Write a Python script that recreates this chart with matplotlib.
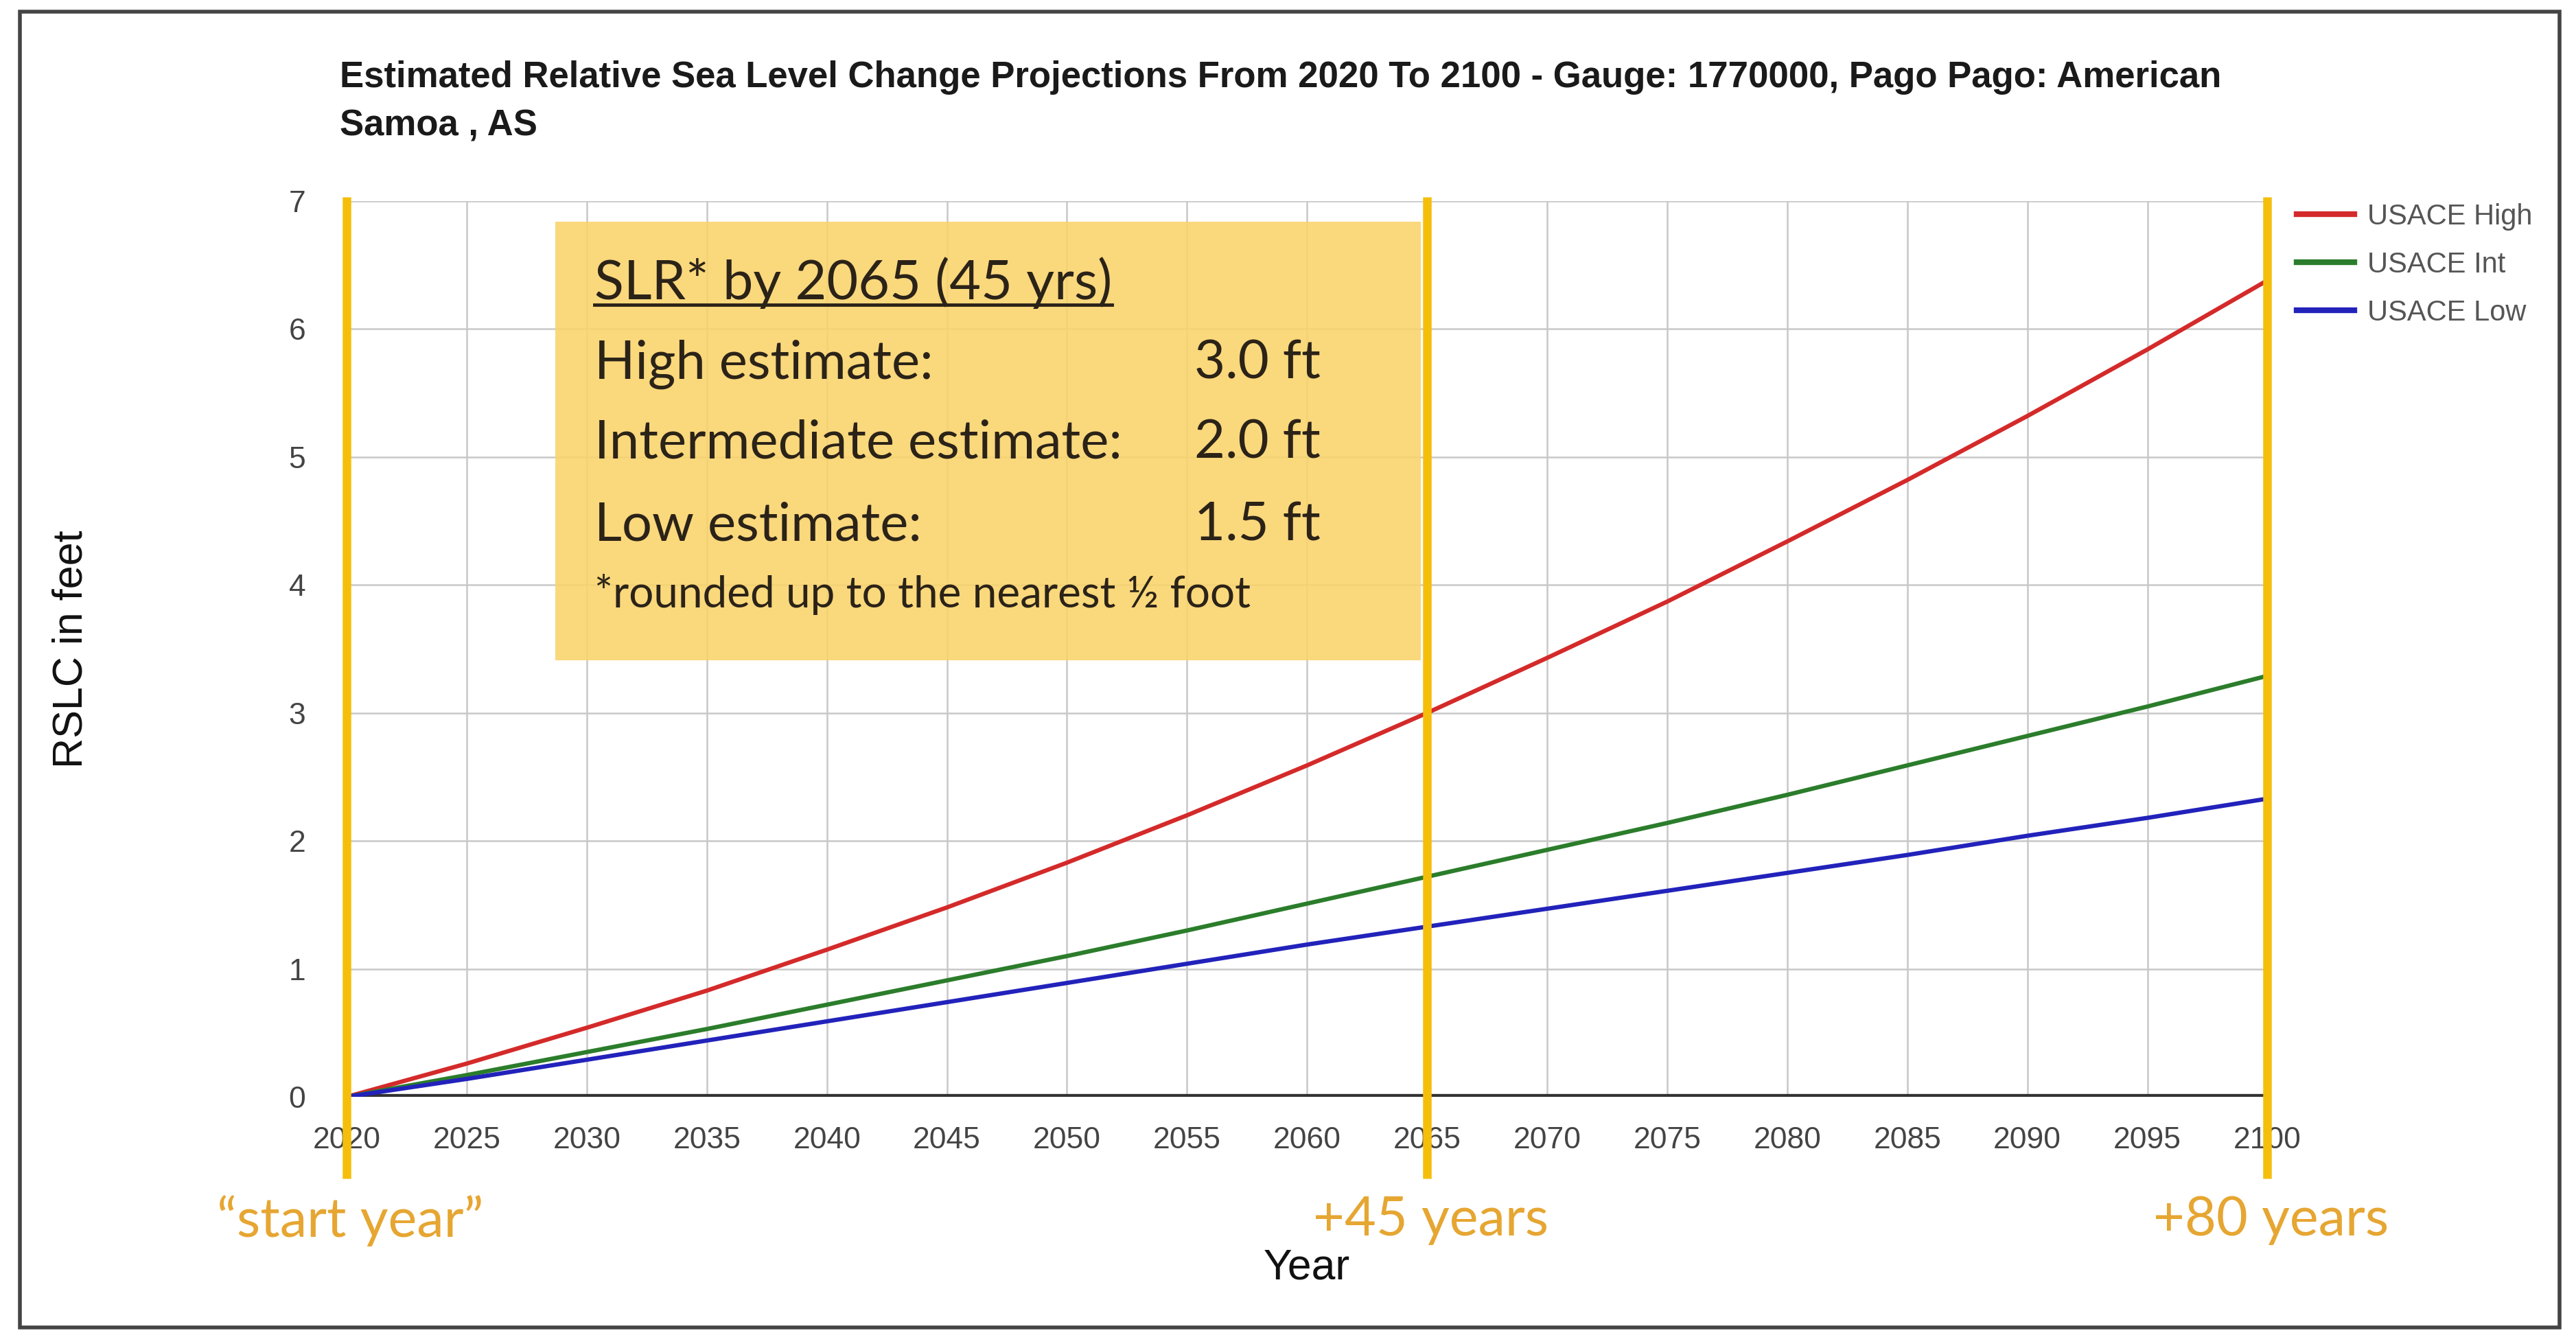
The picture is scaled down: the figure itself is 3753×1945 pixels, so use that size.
import math
import matplotlib
matplotlib.use('Agg')
import matplotlib.pyplot as plt
from matplotlib.patches import Rectangle
from matplotlib.lines import Line2D
from matplotlib.transforms import blended_transform_factory, IdentityTransform

# Relative sea level change (feet) relative to 2020, Pago Pago gauge 1770000
years = [2020, 2025, 2030, 2035, 2040, 2045, 2050, 2055, 2060,
         2065, 2070, 2075, 2080, 2085, 2090, 2095, 2100]
usace_high = [0.0, 0.26, 0.54, 0.83, 1.15, 1.48, 1.83, 2.20, 2.59,
              3.0, 3.43, 3.87, 4.34, 4.82, 5.32, 5.84, 6.38]
usace_int = [0.0, 0.17, 0.35, 0.53, 0.72, 0.91, 1.10, 1.30, 1.51,
             1.72, 1.93, 2.14, 2.36, 2.59, 2.82, 3.05, 3.29]
usace_low = [0.0, 0.14, 0.29, 0.44, 0.59, 0.74, 0.89, 1.04, 1.19,
             1.33, 1.47, 1.61, 1.75, 1.89, 2.04, 2.18, 2.33]

series_names = ['USACE High', 'USACE Int', 'USACE Low']
series_colors = ['#D42A2A', '#2B7D2B', '#2222BB']

milestones = [2020, 2065, 2100]
milestone_labels = ['\u201cstart year\u201d', '+45 years', '+80 years']
target_year = 2065

y_ticks = [0, 1, 2, 3, 4, 5, 6, 7]

title = ('Estimated Relative Sea Level Change Projections From 2020 To 2100 - '
         'Gauge: 1770000, Pago Pago: American\nSamoa , AS')

SANS = 'Liberation Sans'
HAND = 'Lato'

fig = plt.figure(figsize=(37.53, 19.45), dpi=100)
ax = fig.add_axes([0.1346, 0.1784, 0.7456, 0.671])

for vals, name, col in zip([usace_high, usace_int, usace_low], series_names, series_colors):
    ax.plot(years, vals, color=col, lw=4.5, label=name, zorder=4)

ax.set_xlim(years[0], years[-1])
ax.set_ylim(0, 7)
ax.set_xticks(years)
ax.set_yticks(y_ticks)
ax.grid(True, color='#c8c8c8', lw=1.8)
ax.set_axisbelow(True)
for s in ax.spines.values():
    s.set_visible(False)
ax.axhline(0, color='#333333', lw=6, zorder=3)
ax.tick_params(axis='both', length=0, labelcolor='#444444', labelsize=32)
ax.tick_params(axis='y', pad=43)
ax.tick_params(axis='x', pad=31)
for lab in ax.get_xticklabels() + ax.get_yticklabels():
    lab.set_fontfamily(SANS)

ax.set_xlabel('Year', fontsize=45, family=SANS, color='#111111')
ax.xaxis.set_label_coords(0.5, -0.168)
ax.set_ylabel('RSLC in feet', fontsize=44, family=SANS, color='#111111')
ax.yaxis.set_label_coords(-0.133, 0.5)

fig.text(0.132, 0.955, title, fontsize=38, fontweight='bold', family=SANS,
         color='#1a1a1a', va='top', ha='left', linespacing=1.55)

# milestone markers running past the axis
ax.vlines(milestones, -0.64, 7.03, color='#F5BE0B', lw=9, zorder=6, clip_on=False)
btrans = blended_transform_factory(ax.transData, ax.transAxes)
for yr, lab in zip(milestones, milestone_labels):
    ax.text(yr + 0.15, -0.138, lab, transform=btrans, ha='center', va='center',
            fontsize=57, family=HAND, color='#E6A632')

leg = ax.legend(loc='upper left', bbox_to_anchor=(1.0154, 0.998), frameon=False,
                prop={'family': SANS, 'size': 30}, handlelength=2.0,
                handletextpad=0.45, labelspacing=0.72, borderpad=0, borderaxespad=0)
for t in leg.get_texts():
    t.set_color('#555555')
for h in leg.get_lines():
    h.set_linewidth(6)

# summary box for 2065
ax.add_patch(Rectangle((0.1087, 0.487), 0.4505, 0.49, transform=ax.transAxes,
                       fc='#FAD36A', ec='none', alpha=0.88, zorder=2))
idx = years.index(target_year)
rounded = [math.ceil(s[idx] * 2) / 2 for s in (usace_high, usace_int, usace_low)]
txt_col = '#2b2318'
head = ax.text(0.129, 0.909, 'SLR* by %d (%d yrs)' % (target_year, target_year - years[0]),
               transform=ax.transAxes, fontsize=57, family=HAND, color=txt_col,
               va='center', ha='left', zorder=7)
rows = ['High estimate:', 'Intermediate estimate:', 'Low estimate:']
for y, lab, val in zip([0.818, 0.7295, 0.6375], rows, rounded):
    ax.text(0.129, y, lab, transform=ax.transAxes, fontsize=56, family=HAND,
            color=txt_col, va='center', ha='left', zorder=7)
    ax.text(0.4414, y, '%.1f ft' % val, transform=ax.transAxes, fontsize=56,
            family=HAND, color=txt_col, va='center', ha='left', zorder=7)
ax.text(0.129, 0.561, '*rounded up to the nearest \u00bd foot', transform=ax.transAxes,
        fontsize=46, family=HAND, color=txt_col, va='center', ha='left', zorder=7)

# underline the box heading
fig.canvas.draw()
bb = head.get_window_extent()
fig.add_artist(Line2D([bb.x0, bb.x1], [bb.y0 + 6, bb.y0 + 6], transform=IdentityTransform(),
                      color=txt_col, lw=3.5))

# outer frame
fig.add_artist(Rectangle((0.0077, 0.0057), 0.9859, 0.9856, transform=fig.transFigure,
                         fill=False, ec='#444444', lw=4))

fig.savefig('out.png', dpi=100)
